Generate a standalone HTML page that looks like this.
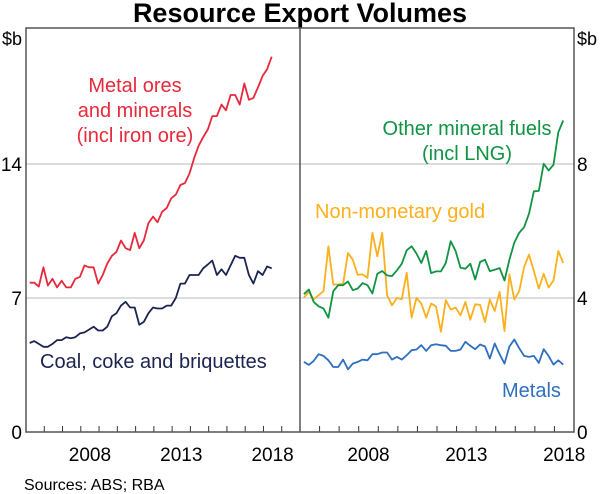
<!DOCTYPE html>
<html><head><meta charset="utf-8"><style>
body{margin:0;background:#fff;}
svg{display:block;font-family:"Liberation Sans",Arial,sans-serif;}
</style></head><body>
<svg id="chart" width="600" height="494" viewBox="0 0 600 494">
<text x="300" y="22" text-anchor="middle" font-size="27" font-weight="bold">Resource Export Volumes</text>
<g id="grid"></g>
<g id="ticks"></g>
<g id="series"></g>
<rect x="26" y="28" width="548" height="404" fill="none" stroke="#555" stroke-width="1.5"/>
<line x1="300" y1="28" x2="300" y2="432" stroke="#555" stroke-width="1.5"/>
<text x="22" y="45" text-anchor="end" font-size="18">$b</text>
<text x="577" y="45" font-size="18">$b</text>
<text text-anchor="middle" font-size="20" fill="#e8293b"><tspan x="135" y="92">Metal ores</tspan><tspan x="135" y="117">and minerals</tspan><tspan x="135" y="142">(incl iron ore)</tspan></text>
<text x="40" y="368" font-size="20" fill="#1b2450">Coal, coke and briquettes</text>
<text text-anchor="middle" font-size="20" fill="#109444"><tspan x="467" y="135">Other mineral fuels</tspan><tspan x="467" y="160">(incl LNG)</tspan></text>
<text x="315" y="218" font-size="20" fill="#fbb01c">Non-monetary gold</text>
<text x="502" y="397" font-size="20" fill="#2f6fbf">Metals</text>
<text x="24" y="490" font-size="16">Sources: ABS; RBA</text>
</svg>
<script>
const startYear = 2005.2;
const stepYear = 0.25;
const metalOres = [7.8,7.8,7.6,8.6,7.65,8.0,7.55,7.9,7.55,7.55,8.0,8.1,8.7,8.6,8.6,7.75,8.2,8.8,9.2,9.4,10.0,9.6,9.5,10.4,9.6,10.0,10.9,11.25,10.95,11.5,11.7,12.2,12.4,12.9,13.0,13.5,14.3,14.95,15.4,15.8,16.5,16.5,17.1,16.8,17.6,17.6,17.1,18.2,17.35,17.45,18.0,18.6,18.95,19.6];
const coal = [4.65,4.75,4.6,4.45,4.45,4.6,4.8,4.8,4.95,4.9,4.95,5.15,5.2,5.35,5.5,5.3,5.3,5.5,6.05,6.2,6.6,6.8,6.5,6.5,5.6,5.75,6.2,6.5,6.45,6.45,6.6,6.6,7.0,7.75,7.75,8.2,8.2,8.2,8.55,8.75,8.95,8.2,8.5,8.2,8.7,9.2,9.1,9.1,8.2,7.75,8.4,8.2,8.65,8.55];
const otherFuels = [4.11,4.25,3.88,3.75,3.68,3.41,4.2,4.38,4.38,4.49,4.23,4.28,4.44,4.38,4.13,4.72,4.8,4.67,4.65,4.82,5.02,5.42,5.54,5.32,5.04,5.4,4.74,4.79,4.79,5.04,5.69,5.4,4.9,4.87,5.02,4.55,5.07,5.14,4.8,4.84,4.89,4.52,5.14,5.65,5.94,6.11,6.51,7.18,7.19,8.0,7.8,7.97,8.94,9.29];
const gold = [4.01,4.18,3.96,4.08,4.2,5.54,4.4,4.4,4.42,5.34,5.14,4.69,4.7,4.6,5.94,5.24,5.94,4.08,3.78,4.0,3.96,4.75,3.41,4.0,3.83,3.41,3.83,3.75,2.99,3.93,3.65,3.71,3.48,3.88,3.35,3.81,3.79,3.28,3.95,3.61,4.18,3.01,4.7,3.95,4.2,4.92,5.29,4.8,4.28,4.72,4.31,4.52,5.4,5.04];
const metals = [2.09,2.0,2.12,2.32,2.27,2.14,1.94,1.94,2.16,1.87,2.04,2.09,2.16,2.14,2.32,2.32,2.37,2.37,2.16,2.24,2.16,2.29,2.44,2.46,2.59,2.42,2.59,2.62,2.59,2.57,2.42,2.42,2.46,2.69,2.57,2.47,2.61,2.55,2.19,2.64,2.32,2.04,2.55,2.76,2.5,2.27,2.24,2.27,2.06,2.47,2.27,2.01,2.14,2.01];
const leftTicks = [0,7,14];
const rightTicks = [0,4,8];
const yearLabels = [2008,2013,2018];

const NS="http://www.w3.org/2000/svg";
const Y0=432, TOP=28;
const yL=v=>Y0-v*(Y0-TOP)/21.1;
const yR=v=>Y0-v*(Y0-TOP)/12.05;
const xL=t=>26+(t-2005)*274/15;
const xR=t=>300+(t-2005)*274/14;
function mk(tag,attrs,parent){const e=document.createElementNS(NS,tag);for(const k in attrs)e.setAttribute(k,attrs[k]);document.getElementById(parent).appendChild(e);return e;}

leftTicks.forEach(v=>{
  if(v>0){const g=mk('line',{x1:26,x2:574,y1:yL(v),y2:yL(v),stroke:'#bbb','stroke-width':1},'grid');
  
  }
  const t=mk('text',{x:22,y:yL(v)+7,'text-anchor':'end','font-size':19},'ticks');t.textContent=v;
  
  
});
rightTicks.forEach(v=>{
  const t=mk('text',{x:577,y:yR(v)+7,'font-size':19},'ticks');t.textContent=v;
  
  
});
for(let yr=2006;yr<2020;yr++){
  const a=mk('line',{x1:xL(yr),x2:xL(yr),y1:Y0,y2:Y0-6,stroke:'#333','stroke-width':1},'ticks');
  
  
  if(yr<2019){const b=mk('line',{x1:xR(yr),x2:xR(yr),y1:Y0,y2:Y0-6,stroke:'#333','stroke-width':1},'ticks');
  
  }
}
yearLabels.forEach(yr=>{
  const a=mk('text',{x:xL(yr+0.5),y:461,'text-anchor':'middle','font-size':19},'ticks');a.textContent=yr;
  
  
  const b=mk('text',{x:xR(yr+0.5),y:461,'text-anchor':'middle','font-size':19},'ticks');b.textContent=yr;
  
  
});
function line(data,xs,ys,color,name){
  const d=data.map((v,i)=>(i?'L':'M')+xs(startYear+i*stepYear).toFixed(1)+','+ys(v).toFixed(1)).join('');
  const p=mk('path',{d:d,fill:'none',stroke:color,'stroke-width':1.8,'stroke-linejoin':'round'},'series');
  
  
}
line(metalOres,xL,yL,'#e8293b','metal-ores-line');
line(coal,xL,yL,'#1b2450','coal-line');
line(gold,xR,yR,'#fbb01c','gold-line');
line(otherFuels,xR,yR,'#109444','other-mineral-fuels-line');
line(metals,xR,yR,'#2f6fbf','metals-line');
</script>
</body></html>
